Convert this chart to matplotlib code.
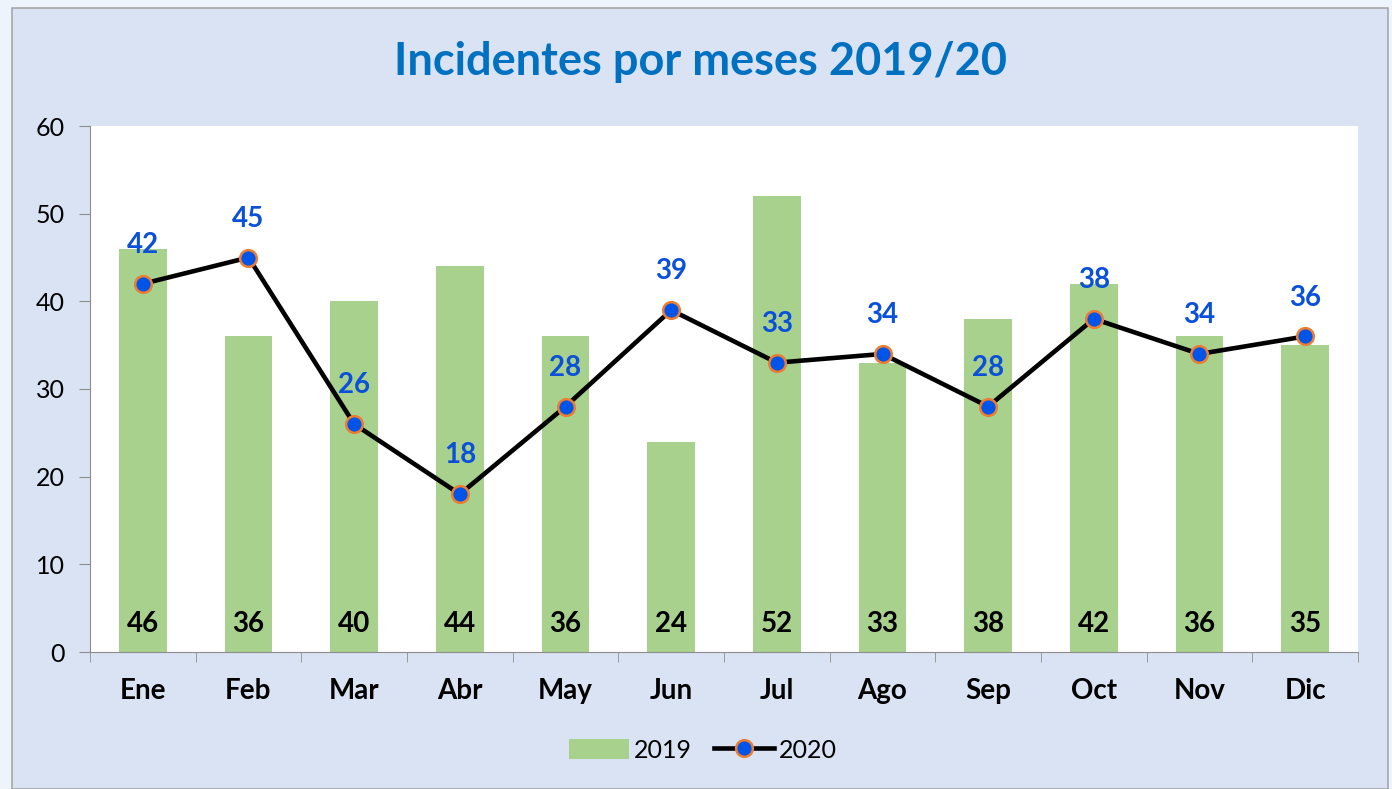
import matplotlib.pyplot as plt
from matplotlib.patches import Rectangle
from matplotlib.lines import Line2D
from matplotlib.patches import Patch

months = ['Ene', 'Feb', 'Mar', 'Abr', 'May', 'Jun', 'Jul', 'Ago', 'Sep', 'Oct', 'Nov', 'Dic']
incidents_2019 = [46, 36, 40, 44, 36, 24, 52, 33, 38, 42, 36, 35]
incidents_2020 = [42, 45, 26, 18, 28, 39, 33, 34, 28, 38, 34, 36]

plt.rcParams['font.family'] = ['Lato', 'DejaVu Sans']

fig = plt.figure(figsize=(13.92, 7.89), dpi=100)
fig.patch.set_facecolor('#eef4fb')

# chart frame
fig.patches.append(Rectangle((12 / 1392, 0), (1388 - 12) / 1392, 1 - 8 / 789,
                             transform=fig.transFigure, facecolor='#dae3f3',
                             edgecolor='#a6a6a6', linewidth=1.2, zorder=-1))

ax = fig.add_axes([90 / 1392, 1 - 652 / 789, (1358 - 90) / 1392, (652 - 126) / 789])
ax.set_facecolor('white')

x = list(range(len(months)))
ax.bar(x, incidents_2019, width=0.45, color='#a9d18e', zorder=1)
ax.plot(x, incidents_2020, color='black', linewidth=3.3, marker='o', markersize=12,
        markerfacecolor='#0055e8', markeredgecolor='#ed7d31', markeredgewidth=1.8, zorder=3)

# labels: 2019 at bar base, 2020 above points
for i, v in enumerate(incidents_2019):
    ax.annotate(str(v), (i, 0), xytext=(0, 20), textcoords='offset points',
                ha='center', va='center', fontsize=20, fontweight='bold', color='black')
for i, v in enumerate(incidents_2020):
    ax.annotate(str(v), (i, v), xytext=(0, 28), textcoords='offset points',
                ha='center', va='center', fontsize=20, fontweight='bold', color='#0a50d8', zorder=4)

ax.set_xlim(-0.5, len(months) - 0.5)
ax.set_ylim(0, 60)
ax.set_yticks(range(0, 61, 10))
ax.tick_params(axis='y', labelsize=18, length=8, color='#8c8c8c', pad=10)

ax.set_xticks(x)
ax.set_xticklabels(months, fontsize=20, fontweight='bold')
ax.tick_params(axis='x', length=0, pad=19)
ax.set_xticks([i - 0.5 for i in range(len(months) + 1)], minor=True)
ax.tick_params(axis='x', which='minor', length=7, color='#8c8c8c')

for side in ['top', 'right']:
    ax.spines[side].set_visible(False)
for side in ['left', 'bottom']:
    ax.spines[side].set_color('#8c8c8c')

fig.text(700 / 1392, 1 - 62 / 789, 'Incidentes por meses 2019/20', ha='center', va='center',
         fontsize=32.5, fontweight='bold', color='#0070c0')

handles = [Patch(facecolor='#a9d18e', label='2019'),
           Line2D([0], [0], color='black', linewidth=3.3, marker='o', markersize=12,
                  markerfacecolor='#0055e8', markeredgecolor='#ed7d31', markeredgewidth=1.8, label='2020')]
fig.legend(handles=handles, loc='center', bbox_to_anchor=(703 / 1392, 1 - 750 / 789), ncol=2,
           frameon=False, fontsize=18, handlelength=2.4, handleheight=0.9,
           handletextpad=0.2, columnspacing=0.9)

plt.savefig('out.png', dpi=100, facecolor=fig.get_facecolor())
